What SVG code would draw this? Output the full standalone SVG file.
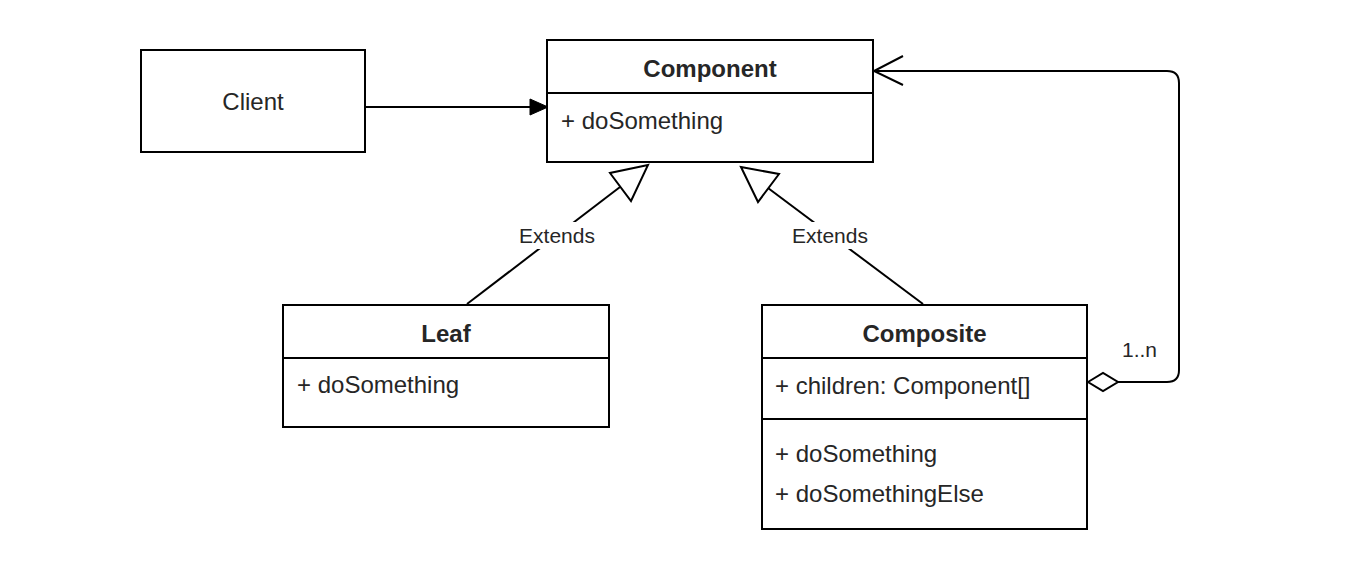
<svg xmlns="http://www.w3.org/2000/svg" width="1368" height="576" viewBox="0 0 1368 576">
<style>
.box{fill:#fff;stroke:#000;stroke-width:2}
.div{stroke:#000;stroke-width:2;fill:none}
.t{font-family:"Liberation Sans",Arial,sans-serif;font-size:24px;fill:#262626}
.b{font-weight:bold;text-anchor:middle}
.c{text-anchor:middle}
.lbl{font-family:"Liberation Sans",Arial,sans-serif;font-size:21px;fill:#262626}
.ln{stroke:#000;stroke-width:2;fill:none}
</style>
<rect width="1368" height="576" fill="#fff"/>
<g id="connectors">
  <g id="client-to-component">
    <line class="ln" x1="365" y1="107" x2="532" y2="107"/>
    <polygon points="530,99 548,107 530,115" fill="#000" stroke="#000" stroke-width="1"/>
  </g>
  <g id="leaf-extends">
    <line class="ln" x1="467" y1="304" x2="620" y2="187"/>
    <polygon points="648,165 610,173 631,201" fill="#fff" stroke="#000" stroke-width="2"/>
    <rect x="514" y="222" width="86" height="27" fill="#fff"/>
    <text class="lbl c" x="557" y="243">Extends</text>
  </g>
  <g id="composite-extends">
    <line class="ln" x1="923" y1="304" x2="768" y2="188"/>
    <polygon points="741,167 779,174 758,202" fill="#fff" stroke="#000" stroke-width="2"/>
    <rect x="787" y="222" width="86" height="27" fill="#fff"/>
    <text class="lbl c" x="830" y="243">Extends</text>
  </g>
  <g id="composite-aggregation">
    <path class="ln" d="M1118,382 H1167 Q1179,382 1179,370 V83 Q1179,71 1167,71 H874"/>
    <polyline class="ln" points="903,56 874,71 903,85"/>
    <polygon points="1088,382 1103,373 1118,382 1103,391" fill="#fff" stroke="#000" stroke-width="2"/>
    <text class="lbl" x="1122" y="357">1..n</text>
  </g>
</g>
<g id="client">
  <rect class="box" x="141" y="50" width="224" height="102"/>
  <text class="t c" x="253" y="110">Client</text>
</g>
<g id="component">
  <rect class="box" x="547" y="40" width="326" height="122"/>
  <line class="div" x1="547" y1="93" x2="873" y2="93"/>
  <text class="t b" x="710" y="77">Component</text>
  <text class="t" x="561" y="129">+ doSomething</text>
</g>
<g id="leaf">
  <rect class="box" x="283" y="305" width="326" height="122"/>
  <line class="div" x1="283" y1="358" x2="609" y2="358"/>
  <text class="t b" x="446" y="342">Leaf</text>
  <text class="t" x="297" y="393">+ doSomething</text>
</g>
<g id="composite">
  <rect class="box" x="762" y="305" width="325" height="224"/>
  <line class="div" x1="762" y1="358" x2="1087" y2="358"/>
  <line class="div" x1="762" y1="419" x2="1087" y2="419"/>
  <text class="t b" x="924.5" y="342">Composite</text>
  <text class="t" x="775" y="394">+ children: Component[]</text>
  <text class="t" x="775" y="462">+ doSomething</text>
  <text class="t" x="775" y="502">+ doSomethingElse</text>
</g>
</svg>
